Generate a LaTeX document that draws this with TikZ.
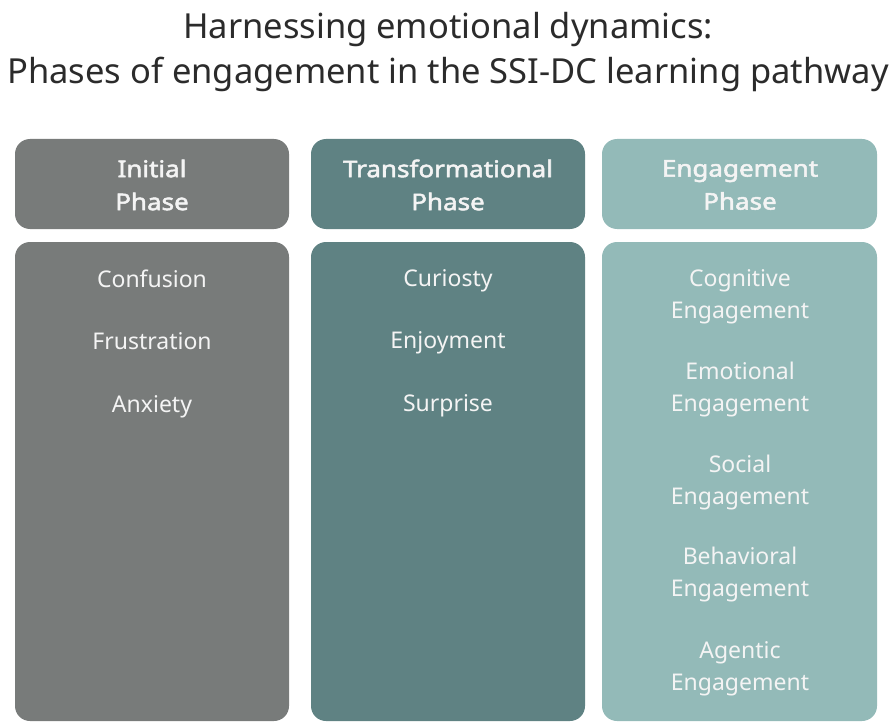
\documentclass[tikz,border=0pt]{standalone}
\usepackage{fontspec}
\setmainfont{Noto Sans}
\newfontfamily\headfont{Noto Sans}[FakeBold=2.2, FakeStretch=1.13]
\definecolor{initialgray}{HTML}{787B7A}
\definecolor{transteal}{HTML}{5F8283}
\definecolor{engageteal}{HTML}{93BAB8}
\definecolor{labelwhite}{HTML}{F4F4F4}
\definecolor{titleink}{HTML}{2B2B2B}
\begin{document}
\begin{tikzpicture}[x=1pt,y=-1pt,
  headtext/.style={text=labelwhite, font=\headfont\fontsize{23}{33}\selectfont, align=center},
  itemtext/.style={text=labelwhite, font=\fontsize{23}{32}\selectfont, align=center},
  titletext/.style={text=titleink, font=\fontsize{34.5}{45}\selectfont, align=center}]
\useasboundingbox (0,0) rectangle (896,722);

% title
\node[titletext] (title) at (448,52) {Harnessing emotional dynamics:\\Phases of engagement in the SSI-DC learning pathway};

% header boxes
\fill[initialgray, rounded corners=15pt] (15,139) rectangle (289,229);
\fill[transteal, rounded corners=15pt] (311,139) rectangle (585,229);
\fill[engageteal, rounded corners=15pt] (602,139) rectangle (877,229);
\node[headtext] (h1) at (152,185) {Initial\\Phase};
\node[headtext] (h2) at (448,185) {Transformational\\Phase};
\node[headtext] (h3) at (740,185) {Engagement\\Phase};

% body boxes
\fill[initialgray, rounded corners=15pt] (15,242) rectangle (289,721);
\fill[transteal, rounded corners=15pt] (311,242) rectangle (585,721);
\fill[engageteal, rounded corners=15pt] (602,242) rectangle (877,721);

% initial phase emotions
\node[itemtext] (c1a) at (152,279) {Confusion};
\node[itemtext] (c1b) at (152,341) {Frustration};
\node[itemtext] (c1c) at (152,407) {Anxiety};

% transformational phase emotions
\node[itemtext] (c2a) at (448,281) {Curiosty};
\node[itemtext] (c2b) at (448,343) {Enjoyment};
\node[itemtext] (c2c) at (448,406) {Surprise};

% engagement dimensions
\node[itemtext] (c3a) at (740,297) {Cognitive\\Engagement};
\node[itemtext] (c3b) at (740,390) {Emotional\\Engagement};
\node[itemtext] (c3c) at (740,483) {Social\\Engagement};
\node[itemtext] (c3d) at (740,575) {Behavioral\\Engagement};
\node[itemtext] (c3e) at (740,669) {Agentic\\Engagement};
\end{tikzpicture}
\end{document}
